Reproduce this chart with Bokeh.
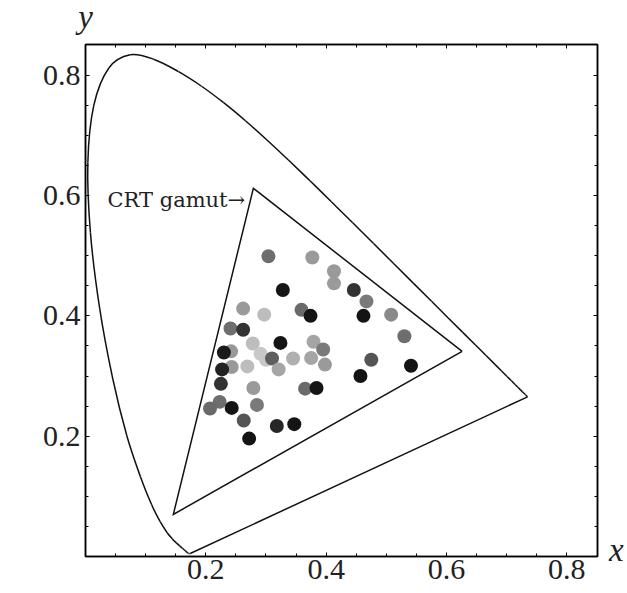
from bokeh.plotting import figure
from bokeh.models import FixedTicker, LinearAxis, Range1d, Label
from bokeh.embed import file_html
from bokeh.resources import INLINE

# CIE 1931 spectral locus (380-700 nm)
LOCUS_X = [0.1741, 0.1740, 0.1738, 0.1736, 0.1733, 0.1730, 0.1726, 0.1721, 0.1714, 0.1703,
           0.1689, 0.1669, 0.1644, 0.1611, 0.1566, 0.1510, 0.1440, 0.1355, 0.1241, 0.1096,
           0.0913, 0.0687, 0.0454, 0.0235, 0.0082, 0.0039, 0.0139, 0.0389, 0.0743, 0.1142,
           0.1547, 0.1929, 0.2296, 0.2658, 0.3016, 0.3373, 0.3731, 0.4087, 0.4441, 0.4788,
           0.5125, 0.5448, 0.5752, 0.6029, 0.6270, 0.6482, 0.6658, 0.6801, 0.6915, 0.7006,
           0.7079, 0.7140, 0.7190, 0.7230, 0.7260, 0.7283, 0.7300, 0.7311, 0.7320, 0.7334,
           0.7344, 0.7347]
LOCUS_Y = [0.0050, 0.0050, 0.0049, 0.0049, 0.0048, 0.0048, 0.0048, 0.0048, 0.0051, 0.0058,
           0.0069, 0.0086, 0.0109, 0.0138, 0.0177, 0.0227, 0.0297, 0.0399, 0.0578, 0.0868,
           0.1327, 0.2007, 0.2950, 0.4127, 0.5384, 0.6548, 0.7502, 0.8120, 0.8338, 0.8262,
           0.8059, 0.7816, 0.7543, 0.7243, 0.6923, 0.6589, 0.6245, 0.5896, 0.5547, 0.5202,
           0.4866, 0.4544, 0.4242, 0.3965, 0.3725, 0.3514, 0.3340, 0.3197, 0.3083, 0.2993,
           0.2920, 0.2859, 0.2809, 0.2770, 0.2740, 0.2717, 0.2700, 0.2689, 0.2680, 0.2666,
           0.2656, 0.2653]

# CRT gamut primaries (R, G, B)
GAMUT_X = [0.626, 0.279, 0.146]
GAMUT_Y = [0.341, 0.612, 0.070]

# measured colour samples
DOT_X = [0.304, 0.377, 0.413, 0.413, 0.328, 0.446, 0.467, 0.262, 0.297, 0.359,
         0.374, 0.462, 0.508, 0.241, 0.262, 0.530, 0.278, 0.324, 0.379, 0.242,
         0.230, 0.291, 0.300, 0.310, 0.321, 0.345, 0.375, 0.395, 0.398, 0.269,
         0.243, 0.227, 0.225, 0.279, 0.365, 0.384, 0.475, 0.457, 0.541, 0.223,
         0.207, 0.243, 0.285, 0.263, 0.318, 0.347, 0.272]
DOT_Y = [0.499, 0.497, 0.474, 0.454, 0.443, 0.443, 0.424, 0.412, 0.402, 0.410,
         0.400, 0.400, 0.402, 0.379, 0.377, 0.366, 0.354, 0.355, 0.357, 0.341,
         0.339, 0.337, 0.327, 0.329, 0.311, 0.329, 0.330, 0.344, 0.319, 0.316,
         0.315, 0.311, 0.287, 0.280, 0.279, 0.280, 0.327, 0.300, 0.317, 0.257,
         0.246, 0.247, 0.252, 0.226, 0.217, 0.220, 0.196]
DOT_GRAY = ["#6e6e6e", "#9a9a9a", "#9a9a9a", "#9a9a9a", "#151515", "#333333", "#7a7a7a", "#9a9a9a", "#bdbdbd", "#6a6a6a",
            "#141414", "#141414", "#8a8a8a", "#6e6e6e", "#333333", "#6e6e6e", "#bdbdbd", "#141414", "#a5a5a5", "#999999",
            "#1a1a1a", "#c8c8c8", "#c8c8c8", "#5e5e5e", "#a5a5a5", "#b0b0b0", "#a5a5a5", "#7a7a7a", "#9a9a9a", "#bdbdbd",
            "#999999", "#222222", "#333333", "#9a9a9a", "#6a6a6a", "#141414", "#555555", "#141414", "#141414", "#6e6e6e",
            "#6a6a6a", "#141414", "#7a7a7a", "#555555", "#262626", "#141414", "#141414"]

TICKS = [0.2, 0.4, 0.6, 0.8]
MINOR_TICKS = [0.05, 0.1, 0.15, 0.2, 0.25, 0.3, 0.35, 0.4, 0.45, 0.5, 0.55, 0.6, 0.65, 0.7, 0.75, 0.8]

SERIF = "Liberation Serif"
INK = "#222222"

p = figure(width=627, height=593, x_range=Range1d(0, 0.851), y_range=Range1d(0, 0.851),
           output_backend="svg", toolbar_location=None,
           min_border_left=85, min_border_right=30, min_border_top=44, min_border_bottom=37)
p.grid.visible = False
p.outline_line_color = "black"
p.outline_line_width = 1.5
p.background_fill_color = "white"
p.border_fill_color = "white"

def style_axis(ax, show_labels):
    ax.ticker = FixedTicker(ticks=TICKS, minor_ticks=MINOR_TICKS)
    ax.axis_line_color = "black"
    ax.axis_line_width = 1.5
    ax.major_tick_in = 4
    ax.major_tick_out = 0
    ax.minor_tick_in = 3
    ax.minor_tick_out = 0
    ax.major_tick_line_color = "black"
    ax.minor_tick_line_color = "black"
    if show_labels:
        ax.major_label_text_font = SERIF
        ax.major_label_text_font_size = "30px"
        ax.major_label_text_color = INK
    else:
        ax.major_label_text_font_size = "0px"
        ax.major_label_standoff = 0

style_axis(p.xaxis[0], True)
style_axis(p.yaxis[0], True)
p.xaxis[0].major_label_standoff = 3
p.yaxis[0].major_label_standoff = 5

top = LinearAxis()
right = LinearAxis()
style_axis(top, False)
style_axis(right, False)
p.add_layout(top, "above")
p.add_layout(right, "right")

# spectral locus drawn as a smooth curve through the tabulated points
n = len(LOCUS_X)
bx0, by0, bx1, by1, bcx0, bcy0, bcx1, bcy1 = [], [], [], [], [], [], [], []
for i in range(n - 1):
    i0 = max(i - 1, 0)
    i3 = min(i + 2, n - 1)
    bx0.append(LOCUS_X[i]); by0.append(LOCUS_Y[i])
    bx1.append(LOCUS_X[i + 1]); by1.append(LOCUS_Y[i + 1])
    bcx0.append(LOCUS_X[i] + (LOCUS_X[i + 1] - LOCUS_X[i0]) / 6)
    bcy0.append(LOCUS_Y[i] + (LOCUS_Y[i + 1] - LOCUS_Y[i0]) / 6)
    bcx1.append(LOCUS_X[i + 1] - (LOCUS_X[i3] - LOCUS_X[i]) / 6)
    bcy1.append(LOCUS_Y[i + 1] - (LOCUS_Y[i3] - LOCUS_Y[i]) / 6)
p.bezier(x0=bx0, y0=by0, x1=bx1, y1=by1, cx0=bcx0, cy0=bcy0, cx1=bcx1, cy1=bcy1,
         line_color="#111111", line_width=1.5)
# purple line closing the locus
p.line([LOCUS_X[-1], LOCUS_X[0]], [LOCUS_Y[-1], LOCUS_Y[0]],
       line_color="#111111", line_width=1.5)

# CRT gamut triangle
p.line(GAMUT_X + [GAMUT_X[0]], GAMUT_Y + [GAMUT_Y[0]], line_color="#111111",
       line_width=1.5, line_join="miter")

p.scatter(DOT_X, DOT_Y, size=14, fill_color=DOT_GRAY, line_color=None)

p.add_layout(Label(x=0.0366, y=0.593, text="CRT gamut\u2192", text_font="DejaVu Serif",
                   text_font_size="21px", text_color=INK, text_baseline="alphabetic",
                   text_align="left"))

# axis names: labels hosted in side panels so they are not clipped to the frame
p.add_layout(Label(x=0.0, y=0.896, text="y", text_font=SERIF, text_font_style="italic",
                   text_font_size="33px", text_color=INK, text_baseline="alphabetic",
                   text_align="center"), "above")
p.add_layout(Label(x=0.870, y=0.010, text="x", text_font=SERIF, text_font_style="italic",
                   text_font_size="33px", text_color=INK, text_baseline="alphabetic",
                   text_align="left"), "left")

open("out.html", "w").write(file_html(p, INLINE))
